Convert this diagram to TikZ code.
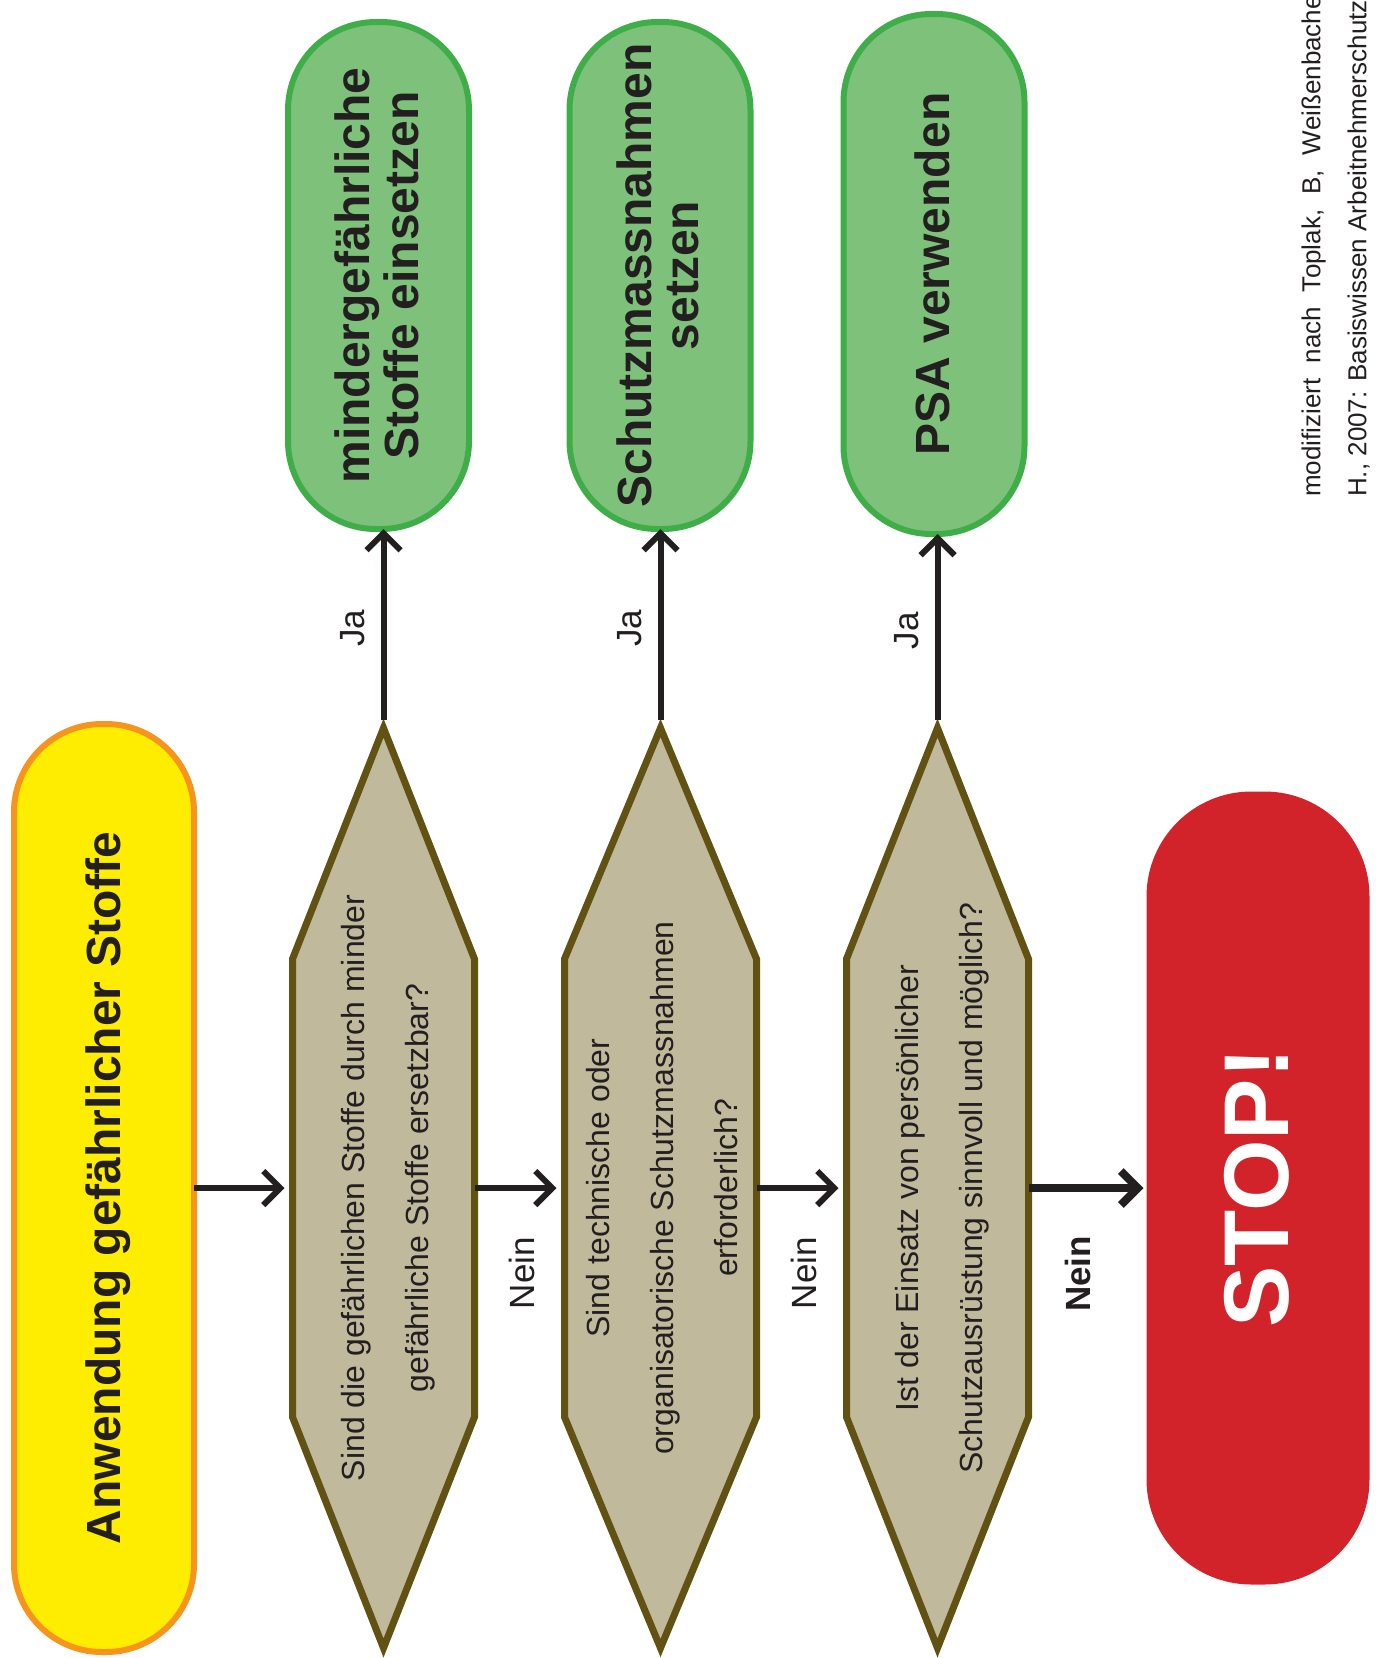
\documentclass[tikz,border=0pt]{standalone}
\usepackage{graphicx}
\usepackage{fontspec}
\setmainfont{Liberation Sans}
\usepackage{tikz}
\usetikzlibrary{positioning,calc,arrows.meta,backgrounds}

\definecolor{ink}{HTML}{231F20}
\definecolor{gelb}{HTML}{FFED00}
\definecolor{startrand}{HTML}{F7941D}
\definecolor{hexfill}{HTML}{C1B99C}
\definecolor{hexrand}{HTML}{615214}
\definecolor{gruen}{HTML}{7DC17A}
\definecolor{gruenrand}{HTML}{3FAE49}
\definecolor{stoprot}{HTML}{D2232A}

% upright text, optional extra room on its top side
\newcommand{\vtext}[2][0pt]{\rotatebox{90}{\raisebox{0pt}[\dimexpr\height+#1\relax][\depth]{\begin{tabular}{@{}c@{}}#2\end{tabular}}}}

\tikzset{
  startbox/.style={draw=startrand, fill=gelb, line width=6pt, rounded corners=88pt,
    minimum width=180pt, minimum height=928pt, inner sep=0pt, outer sep=0pt,
    text=ink, font=\fontsize{48}{48}\selectfont\bfseries},
  frage/.style={minimum width=182pt, minimum height=920pt, inner sep=0pt, outer sep=0pt,
    text=ink, font=\fontsize{32}{64}\selectfont},
  sechseck/.style={draw=hexrand, fill=hexfill, line width=7pt},
  massnahme/.style={draw=gruenrand, fill=gruen, line width=6pt, rounded corners=88pt,
    minimum width=181pt, inner sep=0pt, outer sep=0pt,
    text=ink, font=\fontsize{48}{47}\selectfont\bfseries},
  stopbox/.style={fill=stoprot, rounded corners=105pt, minimum width=223pt,
    minimum height=793pt, inner sep=0pt, outer sep=0pt,
    text=white, font=\fontsize{92}{92}\selectfont\bfseries},
  pfeil/.style={draw=ink, line width=6pt, -{Straight Barb[length=17pt,width=34pt]}},
  antwort/.style={inner sep=0pt, text=ink, font=\fontsize{35}{40}\selectfont},
  quelle/.style={inner sep=0pt, text=ink, font=\fontsize{26}{46}\selectfont}
}

\begin{document}
\begin{tikzpicture}[x=1pt, y=-1pt]
  \useasboundingbox (0,0) rectangle (1377,1658);

  % start and questions
  \node[startbox] (start) at (104,1188) {\vtext[12pt]{Anwendung gefährlicher Stoffe}};
  \node[frage] (q1) at (383.5,1188) {\vtext{Sind die gefährlichen Stoffe durch minder\\gefährliche Stoffe ersetzbar?}};
  \node[frage] (q2) at (660.5,1188) {\vtext{Sind technische oder\\organisatorische Schutzmassnahmen\\erforderlich?}};
  \node[frage] (q3) at (937.5,1188) {\vtext{Ist der Einsatz von persönlicher\\Schutzausrüstung sinnvoll und möglich?}};
  \node[stopbox] (stop) at (1258,1188) {\vtext[24pt]{STOP!}};

  % measures
  \node[massnahme, minimum height=507pt] (m1) at (378.5,275.5) {\vtext[10pt]{mindergefährliche\\Stoffe einsetzen}};
  \node[massnahme, minimum height=507pt] (m2) at (660,275.5) {\vtext[10pt]{Schutzmassnahmen\\setzen}};
  \node[massnahme, minimum height=520pt] (m3) at (934,274) {\vtext[10pt]{PSA verwenden}};

  \begin{scope}[on background layer]
    \fill[white] (0,0) rectangle (1377,1658);
    \foreach \q in {q1,q2,q3}
      \draw[sechseck] (\q.north) -- ($(\q.north east)+(0,231)$) -- ($(\q.south east)-(0,231)$)
        -- (\q.south) -- ($(\q.south west)-(0,231)$) -- ($(\q.north west)+(0,231)$) -- cycle;
  \end{scope}

  % Nein
  \draw[pfeil, shorten >=8pt] (start.east) -- (q1.west);
  \draw[pfeil, shorten >=8pt] (q1.east) -- (q2.west)
    node[midway, below=46pt, xshift=7pt, antwort] (nein1) {\vtext{Nein}};
  \draw[pfeil, shorten >=8pt] (q2.east) -- (q3.west)
    node[midway, below=46pt, xshift=7pt, antwort] (nein2) {\vtext{Nein}};
  \draw[pfeil, line width=8pt, shorten >=3pt] (q3.east) -- (stop.west)
    node[pos=0.4, below=44pt, xshift=7pt, antwort, font=\fontsize{35}{40}\selectfont\bfseries] (nein3) {\vtext{Nein}};

  % Ja
  \draw[pfeil, shorten <=8pt] (q1.north) -- (q1.north |- m1.south)
    node[midway, left=4pt, antwort] (ja1) {\vtext{Ja}};
  \draw[pfeil, shorten <=8pt] (q2.north) -- (q2.north |- m2.south)
    node[midway, left=4pt, antwort] (ja2) {\vtext{Ja}};
  \draw[pfeil, shorten <=8pt] (q3.north) -- (q3.north |- m3.south)
    node[midway, left=4pt, antwort] (ja3) {\vtext{Ja}};

  \node[quelle, anchor=south west] (quelle) at (1288,497) {\rotatebox{90}{\begin{tabular}{@{}l@{}}modifiziert\hspace{15pt}nach\hspace{15pt}Toplak,\hspace{15pt}B,\hspace{15pt}Weißenbacher\\H., 2007: Basiswissen Arbeitnehmerschutz\end{tabular}}};
\end{tikzpicture}
\end{document}
